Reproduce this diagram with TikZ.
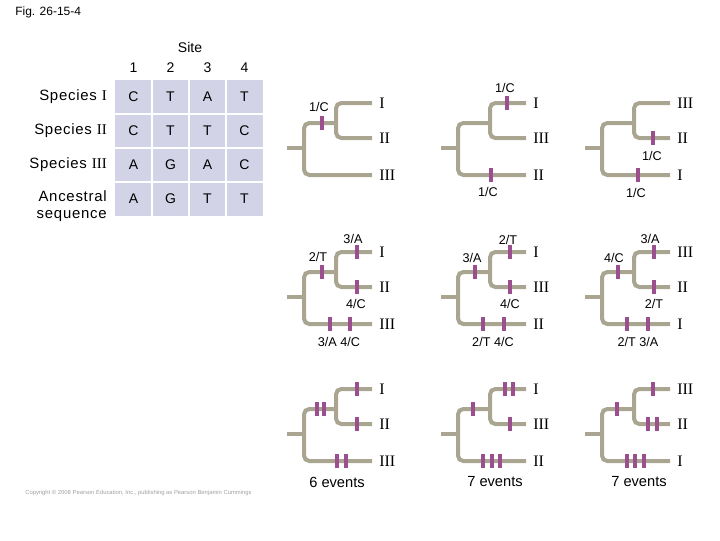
\documentclass[tikz,border=0pt]{standalone}
\usepackage{fontspec}
\setmainfont{Liberation Sans}
\newfontfamily\serifnum{Liberation Serif}
\newfontfamily\spacedsans[LetterSpace=5]{Liberation Sans}
\definecolor{branchgray}{HTML}{A9A591}
\definecolor{mutpurple}{HTML}{9B4F8F}
\definecolor{cellfill}{HTML}{D3D3E7}
\definecolor{copygray}{HTML}{A0A0A0}
\tikzset{
  branch/.style={draw=branchgray, line width=3pt},
  mut/.style={rectangle, fill=mutpurple, minimum width=2.7pt, minimum height=10pt, inner sep=0pt},
  mlabel/.style={font=\fontsize{9.5}{11}\selectfont, inner sep=0pt},
  tip/.style={font=\serifnum\fontsize{12}{14}\selectfont, anchor=west, inner sep=0pt},
  cell/.style={font=\fontsize{10.5}{12}\selectfont, inner sep=0pt},
  rowlab/.style={font=\spacedsans\fontsize{11.2}{12.75}\selectfont, anchor=east, inner sep=0pt, align=right},
  events/.style={font=\fontsize{11}{13}\selectfont, inner sep=0pt},
  pics/phylo/.style n args={3}{code={
    \draw[branch] (-17,45) -- (0,45);
    \draw[branch, rounded corners=4pt] (68,72) -- (0,72) -- (0,20) -- (32,20);
    \draw[branch, rounded corners=4pt] (68,0) -- (32,0) -- (32,35) -- (68,35);
    \node[tip] (-a) at (75,0) {#1};
    \node[tip] (-b) at (75,35) {#2};
    \node[tip] (-c) at (75,72) {#3};
  }}
}
\begin{document}
\begin{tikzpicture}[x=0.75pt,y=-0.75pt]
\useasboundingbox (0,0) rectangle (720,540);

% figure label
\node[anchor=west, inner sep=0pt, font=\fontsize{9}{11}\selectfont] (fig) at (15,12) {Fig. 26-15-4};

% ---- table ----
\fill[cellfill] (115,80) rectangle (263,216);
\foreach \xx in {152,189,226} \draw[white, line width=1pt] (\xx,80) -- (\xx,216);
\foreach \yy in {114,148,182} \draw[white, line width=1pt] (115,\yy) -- (263,\yy);
\node[cell, font=\fontsize{10.5}{12}\selectfont] (site) at (190,47) {Site};
\foreach \c/\xx in {1/133.5,2/170.5,3/207.5,4/244.5}
  \node[cell] (h\c) at (\xx,68) {\c};
\foreach \r/\yy/\a/\b/\cc/\d in {1/97/C/T/A/T,2/131/C/T/T/C,3/165/A/G/A/C,4/199/A/G/T/T}{
  \node[cell] (c\r a) at (133.5,\yy) {\a};
  \node[cell] (c\r b) at (170.5,\yy) {\b};
  \node[cell] (c\r c) at (207.5,\yy) {\cc};
  \node[cell] (c\r d) at (244.5,\yy) {\d};
}
\node[rowlab] (r1) at (107,97) {Species {\serifnum I}};
\node[rowlab] (r2) at (107,131) {Species {\serifnum II}};
\node[rowlab] (r3) at (107,165) {Species {\serifnum III}};
\node[rowlab] (r4) at (107,206.5) {Ancestral\\sequence};

% ---- trees ----
\pic (ta) at (304,103) {phylo={I}{II}{III}};
\pic (tb) at (458,103) {phylo={I}{III}{II}};
\pic (tc) at (602,103) {phylo={III}{II}{I}};
\pic (td) at (304,252) {phylo={I}{II}{III}};
\pic (te) at (458,252) {phylo={I}{III}{II}};
\pic (tf) at (602,252) {phylo={III}{II}{I}};
\pic (tg) at (304,389) {phylo={I}{II}{III}};
\pic (th) at (458,389) {phylo={I}{III}{II}};
\pic (ti) at (602,389) {phylo={III}{II}{I}};

% top row marks
\node[mut] (ma1) at (322,123) {};
\node[mlabel] (la1) at (319,107) {1/C};
\node[mut] (mb1) at (507,103) {};
\node[mlabel] (lb1) at (505,88) {1/C};
\node[mut] (mb2) at (491,175) {};
\node[mlabel] (lb2) at (488,192) {1/C};
\node[mut] (mc1) at (653,138) {};
\node[mlabel] (lc1) at (652,156) {1/C};
\node[mut] (mc2) at (638,175) {};
\node[mlabel] (lc2) at (636,193) {1/C};

% middle row marks
\node[mut] (md1) at (322,272) {};
\node[mlabel] (ld1) at (318,257) {2/T};
\node[mut] (md2) at (357,252) {};
\node[mlabel] (ld2) at (353,239) {3/A};
\node[mut] (md3) at (357,287) {};
\node[mlabel] (ld3) at (356,304) {4/C};
\node[mut] (md4) at (330,324) {};
\node[mut] (md5) at (350,324) {};
\node[mlabel] (ld4) at (339,342) {3/A 4/C};

\node[mut] (me1) at (475,272) {};
\node[mlabel] (le1) at (472,258) {3/A};
\node[mut] (me2) at (510,252) {};
\node[mlabel] (le2) at (508,240) {2/T};
\node[mut] (me3) at (510,287) {};
\node[mlabel] (le3) at (510,304) {4/C};
\node[mut] (me4) at (483,324) {};
\node[mut] (me5) at (504,324) {};
\node[mlabel] (le4) at (493,342) {2/T 4/C};

\node[mut] (mf1) at (618,272) {};
\node[mlabel] (lf1) at (614,258) {4/C};
\node[mut] (mf2) at (654,252) {};
\node[mlabel] (lf2) at (650,239) {3/A};
\node[mut] (mf3) at (654,287) {};
\node[mlabel] (lf3) at (654,304) {2/T};
\node[mut] (mf4) at (627,324) {};
\node[mut] (mf5) at (648,324) {};
\node[mlabel] (lf4) at (638,342) {2/T 3/A};

% bottom row marks
\node[mut] (mg1) at (317,409) {};
\node[mut] (mg2) at (324,409) {};
\node[mut] (mg3) at (357,389) {};
\node[mut] (mg4) at (357,424) {};
\node[mut] (mg5) at (337,461) {};
\node[mut] (mg6) at (346,461) {};
\node[events] (eg) at (337,482) {6 events};

\node[mut] (mh1) at (473,409) {};
\node[mut] (mh2) at (505,389) {};
\node[mut] (mh3) at (513,389) {};
\node[mut] (mh4) at (510,424) {};
\node[mut] (mh5) at (483,461) {};
\node[mut] (mh6) at (492,461) {};
\node[mut] (mh7) at (500,461) {};
\node[events] (eh) at (495,482) {7 events};

\node[mut] (mi1) at (617,409) {};
\node[mut] (mi2) at (653,389) {};
\node[mut] (mi3) at (648,424) {};
\node[mut] (mi4) at (657,424) {};
\node[mut] (mi5) at (627,461) {};
\node[mut] (mi6) at (635,461) {};
\node[mut] (mi7) at (644,461) {};
\node[events] (ei) at (639,482) {7 events};

% copyright
\node[anchor=west, inner sep=0pt, text=copygray, font=\fontsize{4.4}{5}\selectfont] (copy) at (25,493) {Copyright \textcopyright{} 2008 Pearson Education, Inc., publishing as Pearson Benjamin Cummings};
\end{tikzpicture}
\end{document}
